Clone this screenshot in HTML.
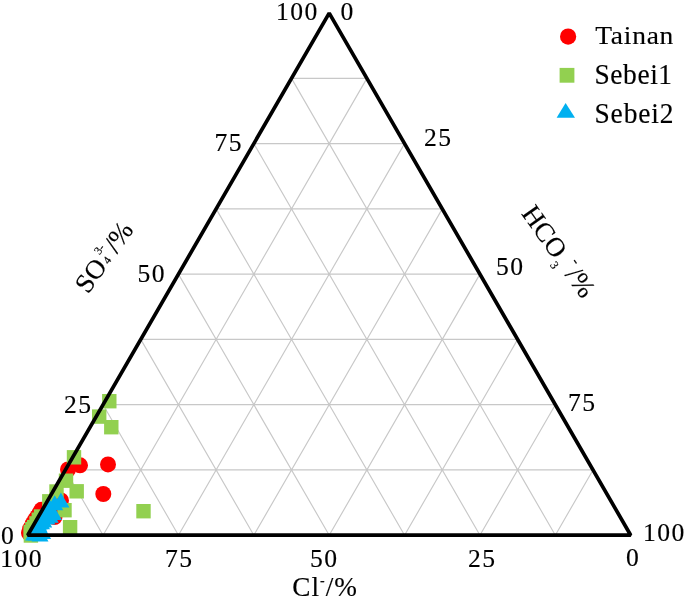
<!DOCTYPE html>
<html lang="en"><head><meta charset="utf-8"><title>Ternary diagram</title>
<style>html,body{margin:0;padding:0;background:#fff}body{width:685px;height:600px;overflow:hidden}svg{display:block}</style>
</head><body>
<svg width="685" height="600" viewBox="0 0 685 600">
<rect width="685" height="600" fill="#fff"/>
<path d="M65.39 469.94L593.01 469.94 M291.51 78.36L555.33 535.20 M366.89 78.36L103.08 535.20 M103.07 404.68L555.33 404.68 M253.82 143.62L479.95 535.20 M404.57 143.62L178.45 535.20 M140.76 339.41L517.64 339.41 M216.14 208.89L404.57 535.20 M442.26 208.89L253.83 535.20 M178.45 274.15L479.95 274.15 M178.45 274.15L329.20 535.20 M479.95 274.15L329.20 535.20 M216.14 208.89L442.26 208.89 M140.76 339.41L253.83 535.20 M517.64 339.41L404.57 535.20 M253.82 143.62L404.57 143.62 M103.07 404.68L178.45 535.20 M555.33 404.68L479.95 535.20 M291.51 78.36L366.89 78.36 M65.39 469.94L103.08 535.20 M593.01 469.94L555.33 535.20" stroke="#c8c8c8" stroke-width="1.15" fill="none"/>
<circle cx="108.00" cy="464.40" r="8.0" fill="#ff0000"/>
<circle cx="80.00" cy="465.30" r="8.0" fill="#ff0000"/>
<circle cx="68.00" cy="469.50" r="8.0" fill="#ff0000"/>
<circle cx="103.30" cy="494.00" r="8.0" fill="#ff0000"/>
<circle cx="61.00" cy="500.50" r="8.0" fill="#ff0000"/>
<circle cx="54.50" cy="517.00" r="8.0" fill="#ff0000"/>
<circle cx="41.40" cy="509.80" r="8.0" fill="#ff0000"/>
<circle cx="39.40" cy="513.30" r="8.0" fill="#ff0000"/>
<circle cx="37.10" cy="517.00" r="8.0" fill="#ff0000"/>
<circle cx="34.90" cy="520.20" r="8.0" fill="#ff0000"/>
<circle cx="32.60" cy="523.90" r="8.0" fill="#ff0000"/>
<circle cx="30.20" cy="528.60" r="8.0" fill="#ff0000"/>
<circle cx="29.00" cy="533.00" r="8.0" fill="#ff0000"/>
<rect x="102.10" y="394.00" width="14.4" height="14.4" fill="#92d050"/>
<rect x="92.00" y="409.40" width="14.4" height="14.4" fill="#92d050"/>
<rect x="104.10" y="420.00" width="14.4" height="14.4" fill="#92d050"/>
<rect x="66.80" y="450.10" width="14.4" height="14.4" fill="#92d050"/>
<rect x="58.80" y="473.50" width="14.4" height="14.4" fill="#92d050"/>
<rect x="69.50" y="484.10" width="14.4" height="14.4" fill="#92d050"/>
<rect x="49.30" y="484.30" width="14.4" height="14.4" fill="#92d050"/>
<rect x="42.10" y="494.10" width="14.4" height="14.4" fill="#92d050"/>
<rect x="57.30" y="503.00" width="14.4" height="14.4" fill="#92d050"/>
<rect x="62.90" y="520.00" width="14.4" height="14.4" fill="#92d050"/>
<rect x="136.30" y="504.00" width="14.4" height="14.4" fill="#92d050"/>
<rect x="33.90" y="509.30" width="14.4" height="14.4" fill="#92d050"/>
<rect x="31.60" y="512.50" width="14.4" height="14.4" fill="#92d050"/>
<rect x="29.30" y="516.20" width="14.4" height="14.4" fill="#92d050"/>
<rect x="27.00" y="519.90" width="14.4" height="14.4" fill="#92d050"/>
<rect x="25.20" y="521.90" width="14.4" height="14.4" fill="#92d050"/>
<rect x="23.50" y="524.90" width="14.4" height="14.4" fill="#92d050"/>
<rect x="23.70" y="528.30" width="14.4" height="14.4" fill="#92d050"/>
<path d="M60.90 492.50L69.40 507.50L52.40 507.50Z" fill="#00b0f0"/>
<path d="M54.70 495.20L63.20 510.20L46.20 510.20Z" fill="#00b0f0"/>
<path d="M53.40 505.10L61.90 520.10L44.90 520.10Z" fill="#00b0f0"/>
<path d="M50.20 507.80L58.70 522.80L41.70 522.80Z" fill="#00b0f0"/>
<path d="M46.90 509.40L55.40 524.40L38.40 524.40Z" fill="#00b0f0"/>
<path d="M43.70 512.60L52.20 527.60L35.20 527.60Z" fill="#00b0f0"/>
<path d="M41.50 514.30L50.00 529.30L33.00 529.30Z" fill="#00b0f0"/>
<path d="M38.80 517.00L47.30 532.00L30.30 532.00Z" fill="#00b0f0"/>
<path d="M42.60 524.00L51.10 539.00L34.10 539.00Z" fill="#00b0f0"/>
<path d="M36.10 525.60L44.60 540.60L27.60 540.60Z" fill="#00b0f0"/>
<path d="M49.50 499.00L58.00 514.00L41.00 514.00Z" fill="#00b0f0"/>
<path d="M46.50 503.00L55.00 518.00L38.00 518.00Z" fill="#00b0f0"/>
<path d="M42.50 508.50L51.00 523.50L34.00 523.50Z" fill="#00b0f0"/>
<path d="M39.00 514.50L47.50 529.50L30.50 529.50Z" fill="#00b0f0"/>
<path d="M36.00 520.50L44.50 535.50L27.50 535.50Z" fill="#00b0f0"/>
<path d="M39.50 521.50L48.00 536.50L31.00 536.50Z" fill="#00b0f0"/>
<path d="M33.50 525.50L42.00 540.50L25.00 540.50Z" fill="#00b0f0"/>
<path d="M40.00 526.50L48.50 541.50L31.50 541.50Z" fill="#00b0f0"/>
<path d="M27.7 535.2L329.2 13.1L630.7 535.2Z" stroke="#000" stroke-width="3.7" stroke-linejoin="bevel" fill="none"/>
<circle cx="568.10" cy="36.60" r="8.1" fill="#ff0000"/>
<rect x="559.60" y="67.90" width="14.8" height="14.8" fill="#92d050"/>
<path d="M565.6 102.9L575 117.8L556.6 117.8Z" fill="#00b0f0"/>
<g font-family="&quot;Liberation Serif&quot;, serif" fill="#000" stroke="#000" stroke-width="0.15">
<text transform="translate(276 19.6) scale(1 1)" font-size="25.6" letter-spacing="1.45" text-anchor="start" >100</text>
<text transform="translate(340.5 19.6) scale(1 1)" font-size="25.6" letter-spacing="1.45" text-anchor="start" >0</text>
<text transform="translate(214.5 151.3) scale(1 1)" font-size="25.6" letter-spacing="1.45" text-anchor="start" >75</text>
<text transform="translate(137.5 282.3) scale(1 1)" font-size="25.6" letter-spacing="1.45" text-anchor="start" >50</text>
<text transform="translate(64 412.6) scale(1 1)" font-size="25.6" letter-spacing="1.45" text-anchor="start" >25</text>
<text transform="translate(1 544.3) scale(1 1)" font-size="25.6" letter-spacing="1.45" text-anchor="start" >0</text>
<text transform="translate(0.2 566.7) scale(1 1)" font-size="25.6" letter-spacing="1.45" text-anchor="start" >100</text>
<text transform="translate(165 567) scale(1 1)" font-size="25.6" letter-spacing="1.45" text-anchor="start" >75</text>
<text transform="translate(310 567) scale(1 1)" font-size="25.6" letter-spacing="1.45" text-anchor="start" >50</text>
<text transform="translate(468 567.2) scale(1 1)" font-size="25.6" letter-spacing="1.45" text-anchor="start" >25</text>
<text transform="translate(626 566.4) scale(1 1)" font-size="25.6" letter-spacing="1.45" text-anchor="start" >0</text>
<text transform="translate(643 541.1) scale(1 1)" font-size="25.6" letter-spacing="1.45" text-anchor="start" >100</text>
<text transform="translate(424 145.5) scale(1 1)" font-size="25.6" letter-spacing="1.45" text-anchor="start" >25</text>
<text transform="translate(496 275.3) scale(1 1)" font-size="25.6" letter-spacing="1.45" text-anchor="start" >50</text>
<text transform="translate(568 411.4) scale(1 1)" font-size="25.6" letter-spacing="1.45" text-anchor="start" >75</text>
<text transform="translate(595.2 43.8) scale(1.078 1)" font-size="25.5" letter-spacing="0.7" text-anchor="start" >Tainan</text>
<text transform="translate(594.5 83.8) scale(0.96 1)" font-size="28.6" letter-spacing="0.6" text-anchor="start" >Sebei1</text>
<text transform="translate(594.5 122.5) scale(0.96 1)" font-size="28.6" letter-spacing="0.9" text-anchor="start" >Sebei2</text>
<text x="292.3" y="596.3" font-size="27.2" letter-spacing="1">Cl<tspan font-size="14" dy="-11.5">-</tspan><tspan dy="11.5">/%</tspan></text>
<g transform="translate(88 294.8) rotate(-54.5)"><text x="0" y="0" font-size="27">SO</text><text x="36.33" y="-0.8" font-size="11.5">4</text><text x="38.83" y="-13.5" font-size="11.5">3-</text><text x="49.83" y="0" font-size="27">/%</text></g>
<g transform="translate(520.7 213.6) rotate(54.5)"><text x="0" y="0" font-size="27">HCO</text><text x="58.60" y="6.3" font-size="12">3</text><text x="68.40" y="-13" font-size="15">-</text><text x="75.50" y="0" font-size="27">/%</text></g>
</g>
</svg>
</body></html>
